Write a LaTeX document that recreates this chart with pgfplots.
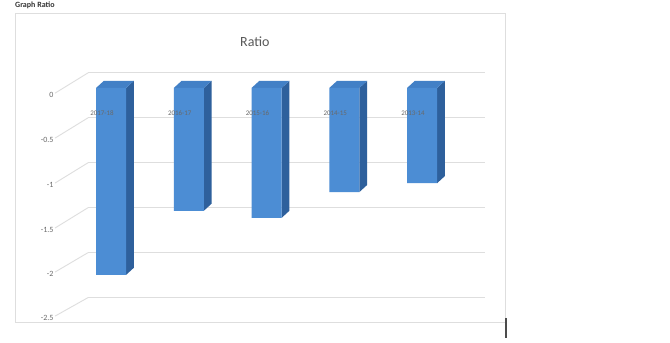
\documentclass[border=0pt]{standalone}
\usepackage{fontspec}
\setmainfont{Carlito}
\usepackage{pgfplots}
\pgfplotsset{compat=1.18}
\definecolor{front}{RGB}{76,141,212}
\definecolor{side}{RGB}{46,96,156}
\definecolor{topc}{RGB}{66,128,198}
\definecolor{gridc}{RGB}{222,222,222}
\definecolor{txt}{RGB}{105,105,105}
\begin{document}
\begin{tikzpicture}[x=1pt,y=1pt]
\useasboundingbox (0,0) rectangle (670,343);
\fill[white] (0,0) rectangle (670,343);
\draw[gridc, line width=0.8pt] (15,330) rectangle (505,21);
\node[anchor=base west, font=\bfseries\fontsize{8}{9}\selectfont, text=black!80, inner sep=0pt] at (15,335) {Graph Ratio};
\draw[black!70, line width=1.2pt] (506,25) -- (506,5);
\begin{axis}[
  at={(57pt,5.8pt)}, anchor=south west,
  x=77.75pt, y=89pt,
  xmin=-0.695, xmax=5, ymin=-2.8, ymax=0.75,
  axis line style={draw=none},
  clip=false,
  xtick=\empty,
  ytick={-0.08,-0.585,-1.09,-1.595,-2.09,-2.585},
  yticklabels={0,-0.5,-1,-1.5,-2,-2.5},
  major tick length=0pt,
  yticklabel style={font=\fontsize{8}{9}\selectfont, text=txt},
]
% back wall gridlines
\addplot[gridc, line width=0.9pt, forget plot] coordinates {(-0.296,0.17) (4.81,0.17)};
\addplot[gridc, line width=0.9pt, forget plot] coordinates {(-0.296,-0.335) (4.81,-0.335)};
\addplot[gridc, line width=0.9pt, forget plot] coordinates {(-0.296,-0.84) (4.81,-0.84)};
\addplot[gridc, line width=0.9pt, forget plot] coordinates {(-0.296,-1.345) (4.81,-1.345)};
\addplot[gridc, line width=0.9pt, forget plot] coordinates {(-0.296,-1.85) (4.81,-1.85)};
\addplot[gridc, line width=0.9pt, forget plot] coordinates {(-0.296,-2.355) (4.81,-2.355)};
% side wall gridlines
\addplot[gridc, line width=0.9pt, forget plot] coordinates {(-0.72,-0.058) (-0.296,0.17)};
\addplot[gridc, line width=0.9pt, forget plot] coordinates {(-0.72,-0.563) (-0.296,-0.335)};
\addplot[gridc, line width=0.9pt, forget plot] coordinates {(-0.72,-1.068) (-0.296,-0.84)};
\addplot[gridc, line width=0.9pt, forget plot] coordinates {(-0.72,-1.573) (-0.296,-1.345)};
\addplot[gridc, line width=0.9pt, forget plot] coordinates {(-0.72,-2.068) (-0.296,-1.85)};
\addplot[gridc, line width=0.9pt, forget plot] coordinates {(-0.72,-2.563) (-0.296,-2.355)};
% bar sides
\addplot[fill=side, draw=none, forget plot] coordinates {(0.193,0) (0.293,0.08) (0.293,-2.02) (0.193,-2.10)} -- cycle;
\addplot[fill=side, draw=none, forget plot] coordinates {(1.193,0) (1.293,0.08) (1.293,-1.30) (1.193,-1.38)} -- cycle;
\addplot[fill=side, draw=none, forget plot] coordinates {(2.193,0) (2.293,0.08) (2.293,-1.38) (2.193,-1.46)} -- cycle;
\addplot[fill=side, draw=none, forget plot] coordinates {(3.193,0) (3.293,0.08) (3.293,-1.09) (3.193,-1.17)} -- cycle;
\addplot[fill=side, draw=none, forget plot] coordinates {(4.193,0) (4.293,0.08) (4.293,-0.99) (4.193,-1.07)} -- cycle;
% bar tops
\addplot[fill=topc, draw=none, forget plot] coordinates {(-0.193,0) (-0.093,0.08) (0.293,0.08) (0.193,0)} -- cycle;
\addplot[fill=topc, draw=none, forget plot] coordinates {(0.807,0) (0.907,0.08) (1.293,0.08) (1.193,0)} -- cycle;
\addplot[fill=topc, draw=none, forget plot] coordinates {(1.807,0) (1.907,0.08) (2.293,0.08) (2.193,0)} -- cycle;
\addplot[fill=topc, draw=none, forget plot] coordinates {(2.807,0) (2.907,0.08) (3.293,0.08) (3.193,0)} -- cycle;
\addplot[fill=topc, draw=none, forget plot] coordinates {(3.807,0) (3.907,0.08) (4.293,0.08) (4.193,0)} -- cycle;
% bar fronts
\addplot[ybar, bar width=30pt, bar shift=0pt, fill=front, draw=none] coordinates {(0,-2.10) (1,-1.38) (2,-1.46) (3,-1.17) (4,-1.07)};
% category labels
\node[font=\fontsize{7}{8}\selectfont, text=txt] at (axis cs:-0.116,-0.28) {2017-18};
\node[font=\fontsize{7}{8}\selectfont, text=txt] at (axis cs:0.884,-0.28) {2016-17};
\node[font=\fontsize{7}{8}\selectfont, text=txt] at (axis cs:1.884,-0.28) {2015-16};
\node[font=\fontsize{7}{8}\selectfont, text=txt] at (axis cs:2.884,-0.28) {2014-15};
\node[font=\fontsize{7}{8}\selectfont, text=txt] at (axis cs:3.884,-0.28) {2013-14};
% title
\node[font=\fontsize{14}{16}\selectfont, text=black!65] at (axis cs:1.85,0.52) {Ratio};
\end{axis}
\end{tikzpicture}
\end{document}
